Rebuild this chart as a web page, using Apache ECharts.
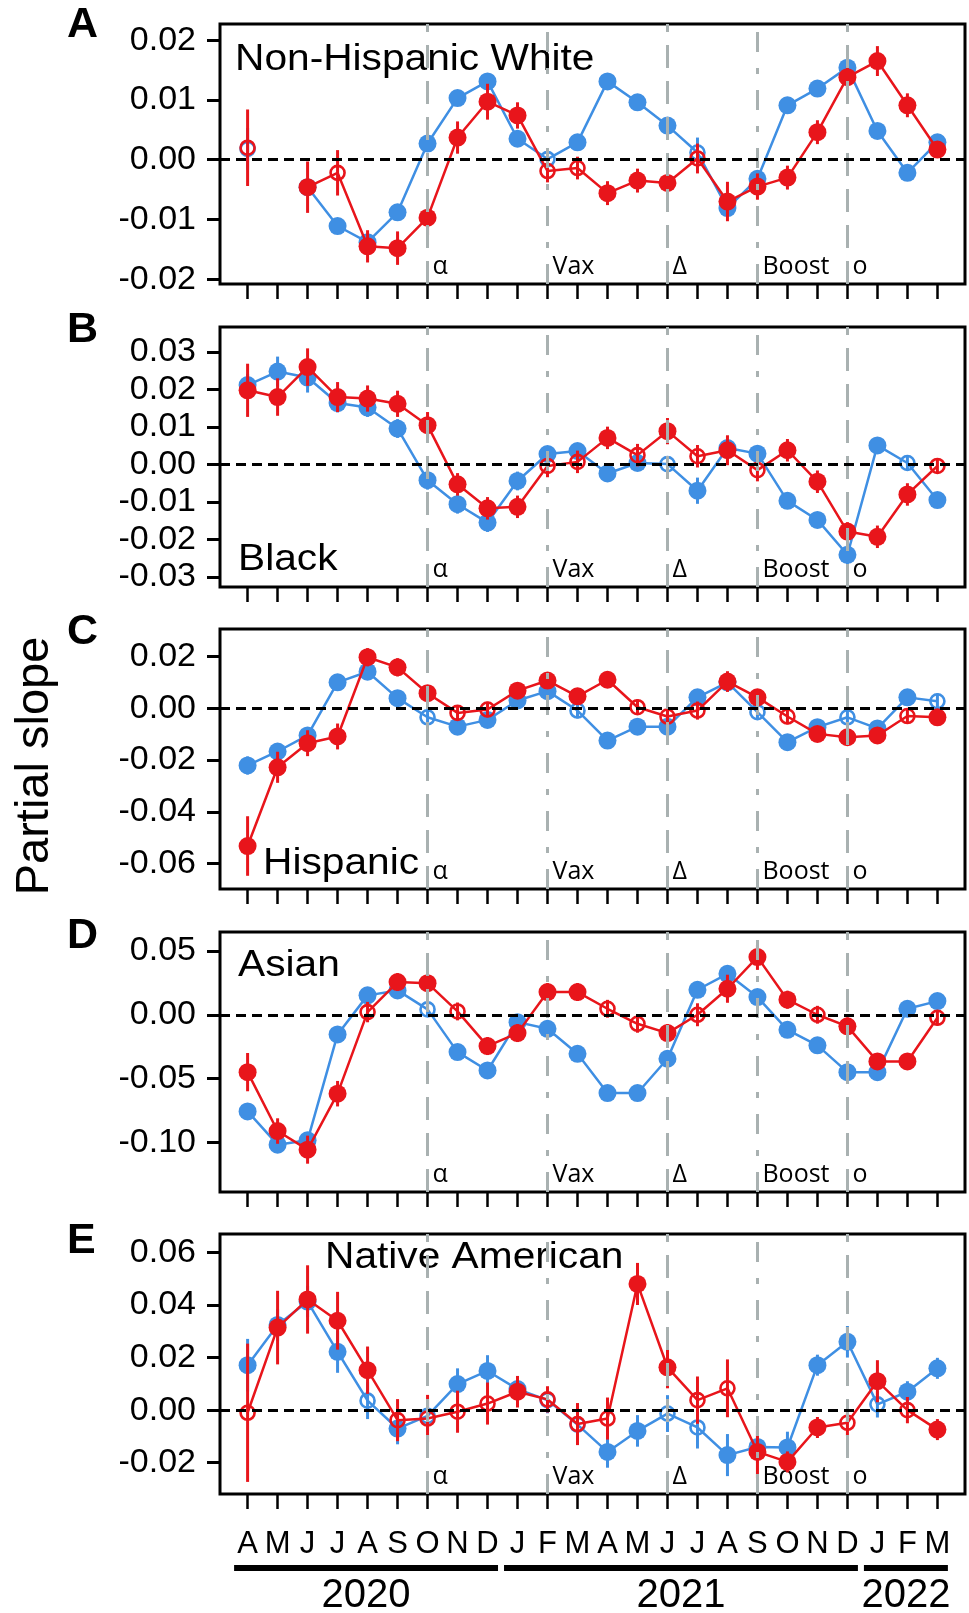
<!DOCTYPE html>
<html>
<head>
<meta charset="utf-8">
<script src="https://cdn.jsdelivr.net/npm/echarts@6/dist/echarts.min.js"></script>
<style>
  html, body { margin: 0; padding: 0; background: #fff; }
  #chart { width: 969px; height: 1613px; }
</style>
</head>
<body>
<div id="chart"></div>
<script>
// months Apr 2020 .. Mar 2022
const months = ['A', 'M', 'J', 'J', 'A', 'S', 'O', 'N', 'D', 'J', 'F', 'M', 'A', 'M', 'J', 'J', 'A', 'S', 'O', 'N', 'D', 'J', 'F', 'M']
const years = ['2020', '2021', '2022']
const yearFirst = [0, 9, 21]
const yearLast = [8, 20, 23]

// event markers
const eventIdx = [6, 10, 14, 17, 20]
const eventLabels = ['α', 'Vax', 'Δ', 'Boost', 'o']
const eventKind = ['dash', 'dashdot', 'dash', 'dashdot', 'dash']

// A: Non-Hispanic White
const whiteBlue = [0.0018, null, -0.0046, -0.0111, -0.0138, -0.0088, 0.0027, 0.0103, 0.0131, 0.0035, 0.0001, 0.0029, 0.0131, 0.0096, 0.0057, 0.0012, -0.0081, -0.0032, 0.0091, 0.0119, 0.0154, 0.0048, -0.0022, 0.0029]
const whiteBlueErr = [0.0035, null, 0.0013, 0.0013, 0.0012, 0.0012, 0.0012, 0.0012, 0.0013, 0.0012, 0.001, 0.0012, 0.0013, 0.0013, 0.0012, 0.0025, 0.0015, 0.0012, 0.001, 0.001, 0.0011, 0.0012, 0.001, 0.0011]
const whiteBlueOpen = [0, 10, 15]
const whiteRed = [0.002, null, -0.0046, -0.0022, -0.0145, -0.0148, -0.0097, 0.0037, 0.0097, 0.0074, -0.0019, -0.0014, -0.0056, -0.0035, -0.0039, 0.0002, -0.007, -0.0045, -0.003, 0.0046, 0.0138, 0.0165, 0.0091, 0.0017]
const whiteRedErr = [0.0064, null, 0.0043, 0.0038, 0.0027, 0.0028, 0.003, 0.0027, 0.003, 0.0022, 0.0019, 0.0019, 0.002, 0.002, 0.0023, 0.0025, 0.0033, 0.0022, 0.002, 0.002, 0.0018, 0.0025, 0.002, 0.0014]
const whiteRedOpen = [0, 3, 10, 11, 15]
const ticksA = [-0.02, -0.01, 0, 0.01, 0.02]

// B: Black
const blackBlue = [0.0212, 0.0248, 0.0232, 0.0164, 0.0152, 0.0096, -0.0042, -0.0106, -0.0155, -0.0044, 0.0028, 0.0036, -0.0024, 0.0004, 0.0001, -0.007, 0.0044, 0.0029, -0.0097, -0.0148, -0.0241, 0.0051, 0.0004, -0.0095]
const blackBlueErr = [0.003, 0.004, 0.004, 0.0025, 0.0025, 0.0025, 0.0025, 0.0025, 0.0025, 0.0025, 0.002, 0.002, 0.002, 0.002, 0.002, 0.0035, 0.0025, 0.002, 0.002, 0.002, 0.0025, 0.002, 0.002, 0.002]
const blackBlueOpen = [14, 22]
const blackRed = [0.0198, 0.018, 0.026, 0.018, 0.0176, 0.0162, 0.0105, -0.0053, -0.0117, -0.0113, -0.0004, 0.0007, 0.0071, 0.0025, 0.0089, 0.0022, 0.0038, -0.0015, 0.0038, -0.0046, -0.0179, -0.0193, -0.008, -0.0004]
const blackRedErr = [0.0071, 0.005, 0.005, 0.004, 0.0035, 0.0035, 0.0035, 0.003, 0.003, 0.003, 0.003, 0.003, 0.003, 0.003, 0.0035, 0.003, 0.004, 0.003, 0.003, 0.003, 0.0025, 0.003, 0.003, 0.002]
const blackRedOpen = [10, 11, 13, 15, 17, 23]
const ticksB = [-0.03, -0.02, -0.01, 0, 0.01, 0.02, 0.03]

// C: Hispanic
const hispBlue = [-0.0221, -0.0167, -0.0105, 0.01, 0.0141, 0.0039, -0.0035, -0.0071, -0.0045, 0.003, 0.0066, -0.0009, -0.0125, -0.0071, -0.0071, 0.0042, 0.01, -0.0015, -0.0131, -0.0073, -0.0035, -0.0078, 0.0042, 0.0027]
const hispBlueErr = [0.0035, 0.003, 0.003, 0.003, 0.003, 0.003, 0.003, 0.003, 0.003, 0.003, 0.003, 0.003, 0.003, 0.003, 0.003, 0.003, 0.003, 0.003, 0.003, 0.003, 0.003, 0.003, 0.003, 0.003]
const hispBlueOpen = [6, 11, 17, 20, 23]
const hispRed = [-0.0532, -0.0228, -0.0135, -0.0109, 0.0197, 0.0158, 0.0058, -0.0018, -0.0005, 0.0068, 0.0107, 0.0046, 0.011, 0.0004, -0.0032, -0.0009, 0.0103, 0.0042, -0.0032, -0.0099, -0.0112, -0.0105, -0.003, -0.0035]
const hispRedErr = [0.0115, 0.006, 0.005, 0.005, 0.0035, 0.0035, 0.003, 0.003, 0.003, 0.003, 0.003, 0.003, 0.003, 0.003, 0.003, 0.0035, 0.004, 0.003, 0.003, 0.003, 0.003, 0.003, 0.003, 0.003]
const hispRedOpen = [7, 8, 13, 14, 15, 18, 22]
const ticksC = [-0.06, -0.04, -0.02, 0, 0.02]

// D: Asian
const asianBlue = [-0.0758, -0.1019, -0.0985, -0.0154, 0.0152, 0.0191, 0.0042, -0.0293, -0.0437, -0.0058, -0.011, -0.0306, -0.0614, -0.0614, -0.0345, 0.0196, 0.0321, 0.0139, -0.0118, -0.024, -0.045, -0.045, 0.0047, 0.0107]
const asianBlueErr = [0.006, 0.006, 0.006, 0.006, 0.006, 0.005, 0.005, 0.005, 0.005, 0.005, 0.005, 0.005, 0.005, 0.005, 0.005, 0.005, 0.005, 0.005, 0.005, 0.005, 0.005, 0.005, 0.005, 0.005]
const asianBlueOpen = [6]
const asianRed = [-0.045, -0.0912, -0.1058, -0.0619, 0.0021, 0.0256, 0.0248, 0.0026, -0.0246, -0.0144, 0.0178, 0.0178, 0.0047, -0.0071, -0.0144, 0, 0.0204, 0.0452, 0.0118, 0, -0.0091, -0.0366, -0.0366, -0.0024]
const asianRedErr = [0.015, 0.01, 0.011, 0.01, 0.008, 0.007, 0.007, 0.007, 0.007, 0.007, 0.007, 0.007, 0.007, 0.007, 0.007, 0.009, 0.011, 0.01, 0.007, 0.007, 0.007, 0.006, 0.006, 0.006]
const asianRedOpen = [4, 7, 12, 13, 15, 19, 23]
const ticksD = [-0.1, -0.05, 0, 0.05]

// E: Native American
const nativeBlue = [0.0171, 0.0324, 0.0413, 0.0222, 0.0036, -0.007, -0.0022, 0.0099, 0.0149, 0.008, 0.0038, -0.0055, -0.0159, -0.0079, -0.0013, -0.0066, -0.0171, -0.014, -0.0142, 0.0171, 0.026, 0.0022, 0.007, 0.0159]
const nativeBlueErr = [0.01, 0.006, 0.006, 0.008, 0.007, 0.006, 0.006, 0.006, 0.006, 0.005, 0.005, 0.006, 0.006, 0.006, 0.007, 0.008, 0.008, 0.006, 0.006, 0.004, 0.006, 0.005, 0.004, 0.004]
const nativeBlueOpen = [4, 6, 10, 11, 14, 15, 21]
const nativeRed = [-0.001, 0.0314, 0.0421, 0.034, 0.0152, -0.0038, -0.0032, -0.0006, 0.0025, 0.007, 0.0041, -0.0053, -0.0032, 0.048, 0.0163, 0.0038, 0.0083, -0.0159, -0.0197, -0.0066, -0.0048, 0.011, 0, -0.0074]
const nativeRedErr = [0.0263, 0.014, 0.013, 0.011, 0.009, 0.008, 0.009, 0.008, 0.008, 0.006, 0.005, 0.008, 0.008, 0.008, 0.008, 0.009, 0.011, 0.01, 0.004, 0.004, 0.005, 0.008, 0.005, 0.004]
const nativeRedOpen = [0, 5, 6, 7, 8, 10, 11, 12, 15, 16, 20, 22]
const ticksE = [-0.02, 0, 0.02, 0.04, 0.06]

const BLUE = '#3f8fe3'
const RED = '#e8151b'
const GREY = '#a9b1b1'
const FONT = '"Liberation Sans", Arial, sans-serif'

const panels = [
  { letter: 'A', title: 'Non-Hispanic White', blue: [whiteBlue, whiteBlueErr, whiteBlueOpen], red: [whiteRed, whiteRedErr, whiteRedOpen], ticks: ticksA, min: -0.0208, max: 0.0227, titleX: 235, titleDy: 36, letterDy: 1 },
  { letter: 'B', title: 'Black', blue: [blackBlue, blackBlueErr, blackBlueOpen], red: [blackRed, blackRedErr, blackRedOpen], ticks: ticksB, min: -0.0327, max: 0.0367, titleX: 238, titleDy: 233, letterDy: 3 },
  { letter: 'C', title: 'Hispanic', blue: [hispBlue, hispBlueErr, hispBlueOpen], red: [hispRed, hispRedErr, hispRedOpen], ticks: ticksC, min: -0.0698, max: 0.0306, titleX: 263, titleDy: 235, letterDy: 3 },
  { letter: 'D', title: 'Asian', blue: [asianBlue, asianBlueErr, asianBlueOpen], red: [asianRed, asianRedErr, asianRedOpen], ticks: ticksD, min: -0.139, max: 0.0649, titleX: 238, titleDy: 34, letterDy: 4 },
  { letter: 'E', title: 'Native American', blue: [nativeBlue, nativeBlueErr, nativeBlueOpen], red: [nativeRed, nativeRedErr, nativeRedOpen], ticks: ticksE, min: -0.0319, max: 0.067, titleX: 325, titleDy: 24, letterDy: 7 },
]
const gridTops = [24, 327, 629, 932, 1234]
const GRID_H = 260
const monthIdx = months.map((m, i) => i)

const dashPattern = (kind) => (kind === 'dash' ? [23, 13] : [20, 16, 6, 16])

const errSeries = (k, vals, errs, color, z, withMarks) => {
  const s = {
    type: 'custom',
    xAxisIndex: k,
    yAxisIndex: k,
    z: z,
    silent: true,
    animation: false,
    data: vals.map((v, i) => (v == null ? null : [i, v - errs[i], v + errs[i]])).filter((d) => d),
    renderItem: (params, api) => {
      const lo = api.coord([api.value(0), api.value(1)])
      const hi = api.coord([api.value(0), api.value(2)])
      return {
        type: 'line',
        shape: { x1: lo[0], y1: lo[1], x2: hi[0], y2: hi[1] },
        style: { stroke: color, lineWidth: 3 },
      }
    },
  }
  if (withMarks) {
    s.markLine = {
      symbol: 'none',
      silent: true,
      animation: false,
      label: { show: false },
      data: [
        ...eventIdx.map((x, j) => ({ xAxis: x, lineStyle: { color: GREY, width: 3, type: dashPattern(eventKind[j]) } })),
        { yAxis: 0, lineStyle: { color: '#000', width: 3, type: [10, 6] } },
      ],
    }
  }
  return s
}

const lineSeries = (k, vals, open, color, z) => ({
  type: 'line',
  xAxisIndex: k,
  yAxisIndex: k,
  z: z,
  silent: true,
  animation: false,
  connectNulls: false,
  symbol: 'circle',
  symbolSize: 18,
  itemStyle: { color: color },
  lineStyle: { color: color, width: 2.5 },
  data: vals.map((v, i) => {
    if (v == null) return [i, '-']
    if (open.includes(i)) {
      return { value: [i, v], symbolSize: 14, itemStyle: { color: 'rgba(255,255,255,0)', borderColor: color, borderWidth: 2.6 } }
    }
    return [i, v]
  }),
})

const grid = [], xAxis = [], yAxis = [], series = []
panels.forEach((p, k) => {
  const last = k === panels.length - 1
  grid.push({ left: 220, width: 745, top: gridTops[k], height: GRID_H, show: true, borderColor: '#000', borderWidth: 3, backgroundColor: 'transparent' })
  xAxis.push({
    type: 'value',
    gridIndex: k,
    position: 'bottom',
    min: -0.92,
    max: 23.92,
    splitLine: { show: false },
    axisLine: { show: false, onZero: false },
    axisTick: { show: true, inside: false, customValues: monthIdx, length: 15, lineStyle: { color: '#000', width: 2.5 } },
    axisLabel: {
      show: last,
      customValues: monthIdx,
      formatter: (v) => months[Math.round(v)],
      fontFamily: FONT,
      fontSize: 31,
      color: '#000',
      margin: 35,
    },
  })
  yAxis.push({
    type: 'value',
    gridIndex: k,
    position: 'left',
    min: p.min,
    max: p.max,
    splitLine: { show: false },
    axisLine: { show: false, onZero: false },
    axisTick: { show: true, inside: false, customValues: p.ticks, length: 13, lineStyle: { color: '#000', width: 3 } },
    axisLabel: {
      customValues: p.ticks,
      formatter: (v) => v.toFixed(2),
      fontFamily: FONT,
      fontSize: 34,
      color: '#000',
      margin: 24,
    },
  })
  series.push(errSeries(k, p.blue[0], p.blue[1], BLUE, 1, true))
  series.push(lineSeries(k, p.blue[0], p.blue[2], BLUE, 2))
  series.push(errSeries(k, p.red[0], p.red[1], RED, 3, false))
  series.push(lineSeries(k, p.red[0], p.red[2], RED, 4))
})

const chart = echarts.init(document.getElementById('chart'))
chart.setOption({ backgroundColor: '#fff', animation: false, grid, xAxis, yAxis, series })

// annotations positioned through the axes
const graphic = []
panels.forEach((p, k) => {
  const top = gridTops[k]
  const bottom = chart.convertToPixel({ gridIndex: k }, [0, p.min])[1]
  graphic.push({ type: 'text', x: 67, y: top + p.letterDy, style: { text: p.letter, font: 'bold 43px ' + FONT, fill: '#000', verticalAlign: 'middle' } })
  graphic.push({ type: 'text', x: p.titleX, y: top + p.titleDy, scaleX: 1.13, style: { text: p.title, font: '36px ' + FONT, fill: '#000', verticalAlign: 'middle' } })
  eventIdx.forEach((x, j) => {
    const px = chart.convertToPixel({ gridIndex: k }, [x, 0])[0]
    graphic.push({ type: 'text', x: px + 5, y: bottom - 17, style: { text: eventLabels[j], font: '25px "Open Sans", sans-serif', fill: '#000', verticalAlign: 'middle' } })
  })
})
const lastK = panels.length - 1
const axisBottom = chart.convertToPixel({ gridIndex: lastK }, [0, panels[lastK].min])[1]
years.forEach((y, j) => {
  const x1 = chart.convertToPixel({ gridIndex: lastK }, [yearFirst[j] - 0.45, 0])[0]
  const x2 = chart.convertToPixel({ gridIndex: lastK }, [yearLast[j] + 0.35, 0])[0]
  graphic.push({ type: 'rect', shape: { x: x1, y: axisBottom + 71, width: x2 - x1, height: 6 }, style: { fill: '#000' } })
  graphic.push({ type: 'text', x: (x1 + x2) / 2, y: axisBottom + 102, style: { text: y, font: '40px ' + FONT, fill: '#000', align: 'center', verticalAlign: 'middle' } })
})
graphic.push({ type: 'text', x: 35, y: 766, rotation: Math.PI / 2, style: { text: 'Partial slope', font: '47px ' + FONT, fill: '#000', align: 'center', verticalAlign: 'middle' } })

chart.setOption({ graphic })
</script>
</body>
</html>
